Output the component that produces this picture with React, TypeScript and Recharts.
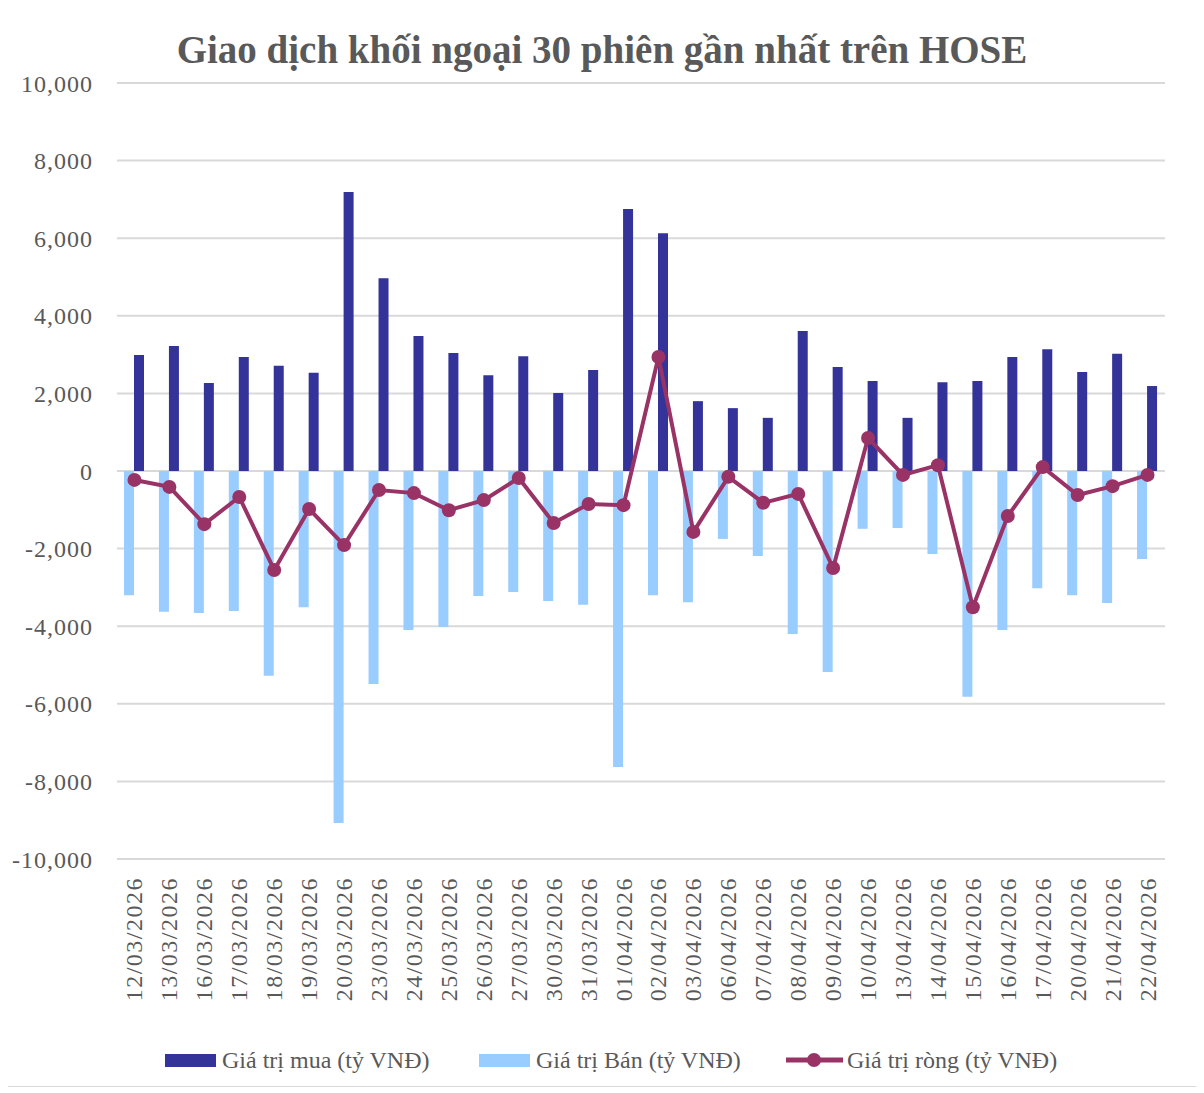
import { ComposedChart, Bar, Line, XAxis, YAxis, CartesianGrid } from 'recharts';

const dates = [
  '12/03/2026', '13/03/2026', '16/03/2026', '17/03/2026', '18/03/2026', '19/03/2026',
  '20/03/2026', '23/03/2026', '24/03/2026', '25/03/2026', '26/03/2026', '27/03/2026',
  '30/03/2026', '31/03/2026', '01/04/2026', '02/04/2026', '03/04/2026', '06/04/2026',
  '07/04/2026', '08/04/2026', '09/04/2026', '10/04/2026', '13/04/2026', '14/04/2026',
  '15/04/2026', '16/04/2026', '17/04/2026', '20/04/2026', '21/04/2026', '22/04/2026',
];

const buyValues = [
  2990, 3220, 2270, 2940, 2710, 2530, 7190, 4970, 3480, 3040, 2470, 2960, 2010, 2600, 6750,
  6130, 1800, 1620, 1370, 3610, 2680, 2320, 1370, 2290, 2320, 2940, 3140, 2550, 3020, 2190,
];

const sellValues = [
  -3200, -3630, -3660, -3610, -5280, -3510, -9070, -5490, -4100, -4020, -3220, -3120, -3350, -3450, -7630,
  -3200, -3380, -1750, -2190, -4200, -5180, -1490, -1470, -2140, -5820, -4100, -3020, -3200, -3400, -2270,
];

const netValues = [
  -230, -410, -1370, -670, -2550, -980, -1910, -490, -570, -1010, -750, -180, -1340, -850, -880,
  2940, -1570, -150, -820, -590, -2500, 850, -100, 150, -3510, -1160, 100, -620, -390, -100,
];

const yTicks = [-10000, -8000, -6000, -4000, -2000, 0, 2000, 4000, 6000, 8000, 10000];

const seriesNames = ['Giá trị mua (tỷ VNĐ)', 'Giá trị Bán (tỷ VNĐ)', 'Giá trị ròng (tỷ VNĐ)'];

const BUY = '#333399';
const SELL = '#99CCFF';
const NET = '#993366';
const TEXT = '#595959';
const FONT = '"Liberation Serif", serif';

const data = dates.map((d, i) => ({
  date: d,
  buy: buyValues[i],
  sell: sellValues[i],
  net: netValues[i],
}));

function DateTick({ x, y, payload }: any) {
  return (
    <text
      x={x}
      y={y + 18}
      transform={`rotate(-90, ${x}, ${y + 18})`}
      textAnchor="end"
      dominantBaseline="central"
      fill={TEXT}
      fontSize={24}
      letterSpacing={1.5}
      fontFamily={FONT}
    >
      {payload.value}
    </text>
  );
}

function LegendRow() {
  const items = [
    { left: 157, color: BUY, kind: 'rect', text: seriesNames[0] },
    { left: 471, color: SELL, kind: 'rect', text: seriesNames[1] },
    { left: 778, color: NET, kind: 'line', text: seriesNames[2] },
  ];
  return (
    <>
      {items.map((it) => (
        <div
          key={it.text}
          style={{
            position: 'absolute',
            left: it.left,
            top: 1036,
            height: 32,
            display: 'flex',
            alignItems: 'center',
            fontFamily: FONT,
            fontSize: 24,
            color: TEXT,
            whiteSpace: 'nowrap',
          }}
        >
          {it.kind === 'rect' ? (
            <div style={{ width: 51, height: 13, background: it.color, marginRight: 6 }} />
          ) : (
            <svg width={57} height={16} style={{ marginRight: 4 }}>
              <line x1={0} y1={8} x2={57} y2={8} stroke={it.color} strokeWidth={5} strokeLinecap="round" />
              <circle cx={28} cy={8} r={7} fill={it.color} />
            </svg>
          )}
          <span>{it.text}</span>
        </div>
      ))}
    </>
  );
}

export default function App() {
  return (
    <div
      style={{
        position: 'relative',
        width: 1188,
        height: 1078,
        border: '1px solid #d9d9d9',
        margin: '-1px 0 0 -1px',
        background: '#fff',
      }}
    >
      <div
        style={{
          position: 'absolute',
          top: 21,
          left: 0,
          width: 1188,
          textAlign: 'center',
          fontFamily: FONT,
          fontWeight: 'bold',
          fontSize: 39,
          color: TEXT,
          lineHeight: '42px',
        }}
      >
        Giao dịch khối ngoại 30 phiên gần nhất trên HOSE
      </div>
      <ComposedChart
        width={1188}
        height={1078}
        data={data}
        margin={{ top: 75, right: 31, left: 0, bottom: 67 }}
        barGap={0}
        barSize={10}
      >
        <CartesianGrid horizontal vertical={false} stroke="#d9d9d9" strokeWidth={2} />
        <XAxis
          dataKey="date"
          interval={0}
          axisLine={false}
          tickLine={false}
          tickSize={0}
          tickMargin={0}
          height={160}
          tick={<DateTick />}
        />
        <YAxis
          domain={[-10000, 10000]}
          ticks={yTicks}
          width={109}
          axisLine={false}
          tickLine={false}
          tickSize={0}
          tickMargin={24}
          tick={{ fill: TEXT, fontSize: 24, fontFamily: FONT, letterSpacing: 1 }}
          tickFormatter={(v: number) => v.toLocaleString('en-US')}
        />
        <Bar dataKey="sell" name={seriesNames[1]} fill={SELL} isAnimationActive={false} />
        <Bar dataKey="buy" name={seriesNames[0]} fill={BUY} isAnimationActive={false} />
        <Line
          dataKey="net"
          name={seriesNames[2]}
          stroke={NET}
          strokeWidth={4}
          dot={{ r: 7, fill: NET, stroke: NET, strokeWidth: 0 }}
          activeDot={false}
          isAnimationActive={false}
        />
      </ComposedChart>
      <LegendRow />
    </div>
  );
}
